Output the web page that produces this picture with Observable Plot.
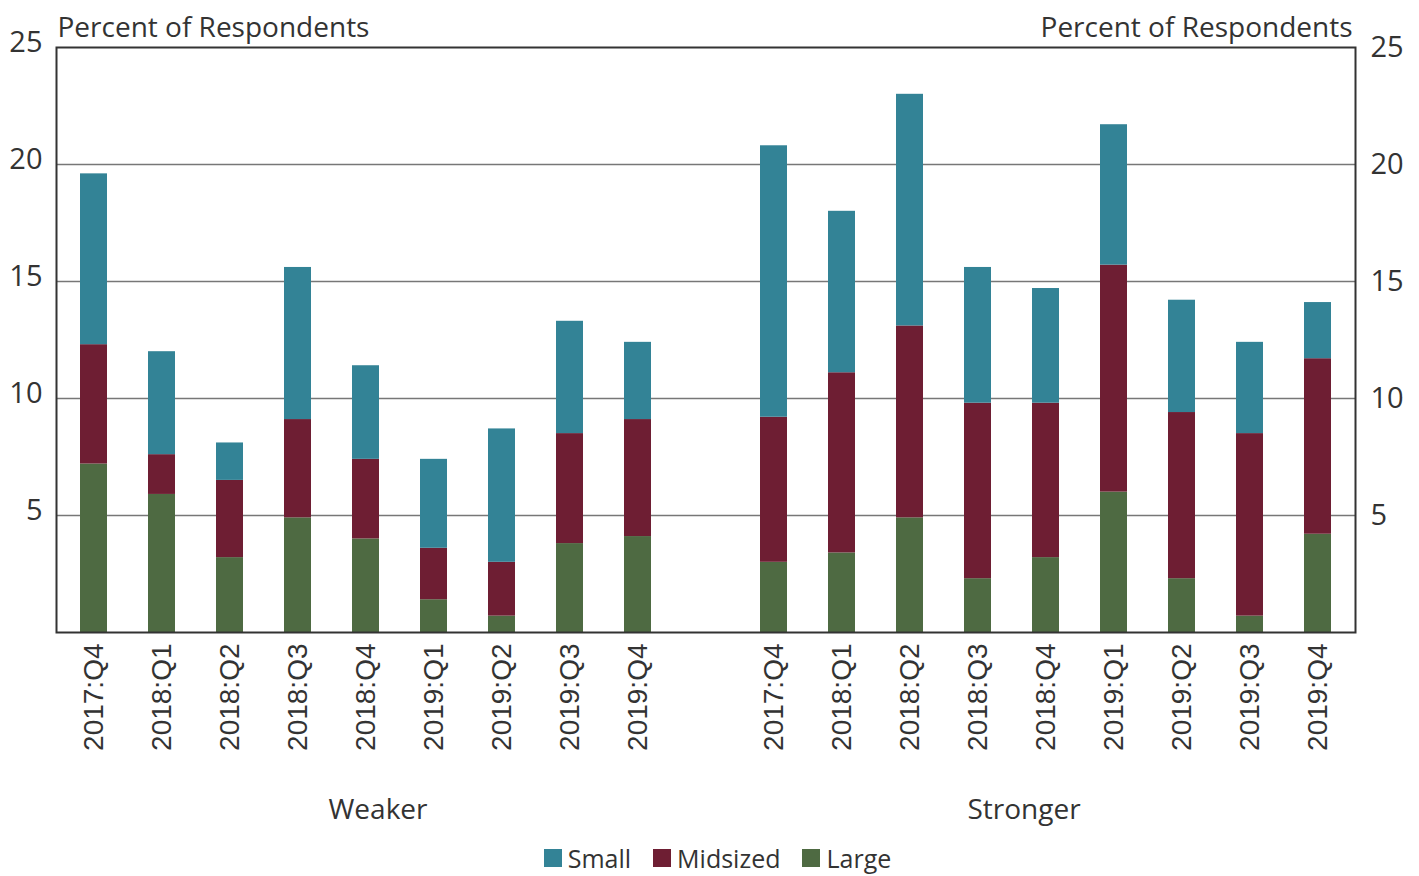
<!DOCTYPE html>
<html>
<head>
<meta charset="utf-8">
<script src="https://cdn.jsdelivr.net/npm/d3@7"></script>
<script src="https://cdn.jsdelivr.net/npm/@observablehq/plot@0.6"></script>
<style>
  html, body { margin: 0; padding: 0; background: #fff; }
  #chart { width: 1419px; }
  .legend { display: flex; justify-content: center; align-items: center; gap: 22px;
            height: 36px; font-family: "Open Sans", Lato, sans-serif; font-size: 25px; color: #333;
            padding-left: 16px; }
  .legend span.item { display: flex; align-items: center; }
  .legend span.sw { display: inline-block; width: 18px; height: 18px; margin-right: 6px; }
</style>
</head>
<body>
<div id="chart"></div>
<script>
const quarters = ["2017:Q4","2018:Q1","2018:Q2","2018:Q3","2018:Q4","2019:Q1","2019:Q2","2019:Q3","2019:Q4"];
const groups = ["Weaker","Stronger"];
const sizes = ["Small","Midsized","Large"];
const sizeColors = ["#338396","#6e1e33","#4e6a42"];
const yTicks = [5,10,15,20,25];

// Weaker
const weakerLarge = [7.2, 5.9, 3.2, 4.9, 4.0, 1.4, 0.7, 3.8, 4.1];
const weakerMid   = [5.1, 1.7, 3.3, 4.2, 3.4, 2.2, 2.3, 4.7, 5.0];
const weakerSmall = [7.3, 4.4, 1.6, 6.5, 4.0, 3.8, 5.7, 4.8, 3.3];
// Stronger
const strongerLarge = [3.0, 3.4, 4.9, 2.3, 3.2, 6.0, 2.3, 0.7, 4.2];
const strongerMid   = [6.2, 7.7, 8.2, 7.5, 6.6, 9.7, 7.1, 7.8, 7.5];
const strongerSmall = [11.6, 6.9, 9.9, 5.8, 4.9, 6.0, 4.8, 3.9, 2.4];

const series = {
  Weaker: {Large: weakerLarge, Midsized: weakerMid, Small: weakerSmall},
  Stronger: {Large: strongerLarge, Midsized: strongerMid, Small: strongerSmall}
};

const rows = [];
for (const g of groups) {
  quarters.forEach((q, i) => {
    for (const s of ["Large","Midsized","Small"]) {
      rows.push({key: g + "|" + q, group: g, quarter: q, size: s, value: series[g][s][i]});
    }
  });
}
const weakerKeys = quarters.map(q => "Weaker|" + q);
const strongerKeys = quarters.map(q => "Stronger|" + q);
const xDomain = [...weakerKeys, "gap", ...strongerKeys];

const textFont = "'Open Sans', Lato, sans-serif";
const tickFont = "'Liberation Sans', Arial, sans-serif";

const chart = Plot.plot({
  width: 1419,
  height: 840,
  marginLeft: 56,
  marginRight: 64,
  marginTop: 47,
  marginBottom: 208,
  style: {fontFamily: textFont, color: "#333", background: "#fff"},
  x: {domain: xDomain, paddingInner: 0.61, paddingOuter: 0.33, axis: null},
  y: {domain: [0, 25], axis: null},
  color: {domain: sizes, range: sizeColors},
  marks: [
    Plot.gridY([5, 10, 15, 20], {stroke: "#777", strokeOpacity: 1, strokeWidth: 1.5}),
    Plot.barY(rows, {x: "key", y: "value", fill: "size", order: ["Large","Midsized","Small"]}),
    Plot.frame({stroke: "#333", strokeWidth: 2}),
    Plot.axisY({anchor: "left", ticks: yTicks, tickSize: 0, tickPadding: 14, fontSize: 29, dy: -5,
                label: null, fontFamily: textFont, fill: "#333"}),
    Plot.axisY({anchor: "right", ticks: yTicks, tickSize: 0, tickPadding: 15, fontSize: 29,
                label: null, fontFamily: textFont, fill: "#333"}),
    Plot.axisX({ticks: [...weakerKeys, ...strongerKeys], tickSize: 0, tickRotate: -90, tickPadding: 11,
                tickFormat: d => d.split("|")[1], fontSize: 28, fontFamily: tickFont, label: null, fill: "#333"}),
    Plot.text(["Percent of Respondents"], {frameAnchor: "top-left", textAnchor: "start", lineAnchor: "bottom",
                dx: 1, dy: -11, fontSize: 28, fontFamily: textFont, fill: "#333"}),
    Plot.text(["Percent of Respondents"], {frameAnchor: "top-right", textAnchor: "end", lineAnchor: "bottom",
                dx: -3, dy: -11, fontSize: 28, fontFamily: textFont, fill: "#333"}),
    Plot.text([{k: "Weaker|2018:Q4", t: "Weaker"}], {x: "k", text: "t", frameAnchor: "bottom", lineAnchor: "bottom",
                dx: 12, dy: 186, fontSize: 28, fontFamily: textFont, fill: "#333"}),
    Plot.text([{k: "Stronger|2018:Q4", t: "Stronger"}], {x: "k", text: "t", frameAnchor: "bottom", lineAnchor: "bottom",
                dx: -22, dy: 186, fontSize: 28, fontFamily: textFont, fill: "#333"})
  ]
});
document.getElementById("chart").appendChild(chart);

const legend = document.createElement("div");
legend.className = "legend";
sizes.forEach((s, i) => {
  const item = document.createElement("span");
  item.className = "item";
  const sw = document.createElement("span");
  sw.className = "sw";
  sw.style.background = sizeColors[i];
  item.appendChild(sw);
  item.appendChild(document.createTextNode(s));
  legend.appendChild(item);
});
document.getElementById("chart").appendChild(legend);
</script>
</body>
</html>
